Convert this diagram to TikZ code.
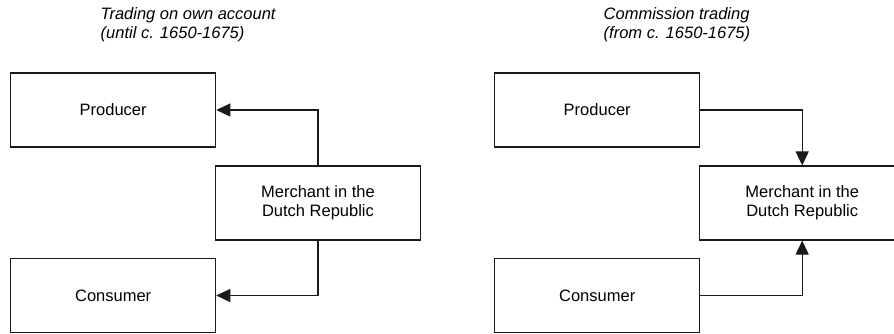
\documentclass[tikz,border=0pt]{standalone}
\usepackage{fontspec}
\setmainfont{Liberation Sans}
\usetikzlibrary{arrows.meta}
\definecolor{ink}{HTML}{1A1A1A}
\newcommand{\BoxW}{205pt}
\newcommand{\BoxH}{74pt}
\newcommand{\Edge}{1.1pt}

\begin{document}
\begin{tikzpicture}[x=1pt,y=-1pt, line join=miter,
  party/.style={draw=ink,line width=\Edge,minimum width=\BoxW,minimum height=\BoxH,
    align=center,inner sep=0pt,font=\fontsize{16.5}{19}\selectfont},
  heading/.style={anchor=base west,align=left,inner sep=0pt,
    font=\itshape\fontsize{16.5}{19}\selectfont},
  flow/.style={draw=ink,line width=\Edge,-{Triangle[length=14pt,width=13pt]}}]

  \useasboundingbox (0,0) rectangle (894,334);
  \clip (0,0) rectangle (894,334);

  % ---- trading on own account ---------------------------------------------
  % (base of a two-line node sits on its last line)
  \node[heading] (ownT) at (100.5,39) {Trading on own account\\(until c. 1650-1675)};
  \node[party] (ownP) at (113.2,110) {Producer};
  \node[party] (ownM) at (318,203)   {Merchant in the\\Dutch Republic};
  \node[party] (ownC) at (113.2,295.5) {Consumer};
  \draw[flow] (ownM.north) |- (ownP.east);
  \draw[flow] (ownM.south) |- (ownC.east);

  % ---- commission trading -------------------------------------------------
  \node[heading] (comT) at (603.5,39) {Commission trading\\(from c. 1650-1675)};
  \node[party] (comP) at (597.2,110) {Producer};
  \node[party] (comM) at (802.2,203) {Merchant in the\\Dutch Republic};
  \node[party] (comC) at (597.2,295.5) {Consumer};
  \draw[flow] (comP.east) -| (comM.north);
  \draw[flow] (comC.east) -| (comM.south);

\end{tikzpicture}
\end{document}
